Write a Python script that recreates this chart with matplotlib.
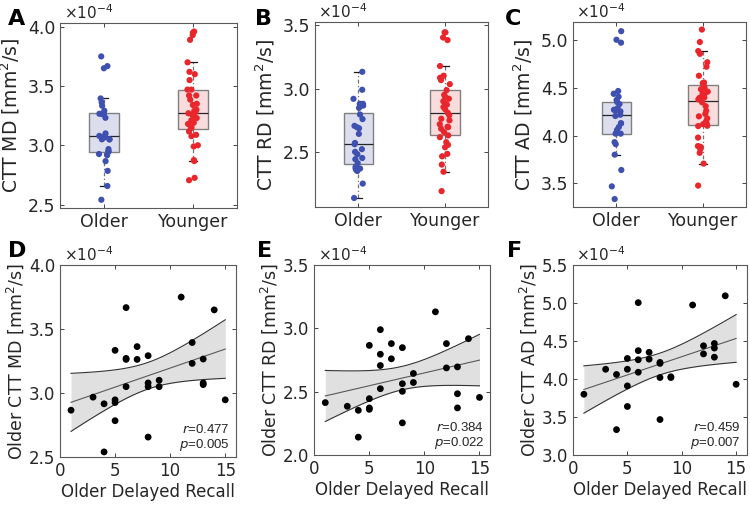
import numpy as np
import matplotlib
matplotlib.use("Agg")
import matplotlib.pyplot as plt

# recall scores of the older group (same for D, E, F)
recall = [1, 3, 4, 4, 5, 5, 5, 5, 6, 6, 6, 6, 7, 7, 8, 8, 8, 8, 9, 9, 11, 12, 12, 13, 13, 13, 14, 15]

# CTT diffusivity, units of 1e-4 mm^2/s
older_md = [2.866, 2.968, 2.916, 2.540, 3.334, 2.947, 2.926, 2.784, 3.668, 3.271, 3.263, 3.050,
            3.363, 3.263, 3.292, 3.079, 3.050, 2.656, 3.100, 3.050, 3.750, 3.395, 3.232, 3.266,
            3.079, 3.066, 3.650, 2.947]
older_rd = [2.414, 2.385, 2.353, 2.141, 2.866, 2.445, 2.372, 2.361, 2.990, 2.796, 2.707, 2.524,
            2.880, 2.760, 2.848, 2.563, 2.503, 2.254, 2.644, 2.573, 3.131, 2.880, 2.688, 2.696,
            2.484, 2.372, 2.919, 2.455]
older_ad = [3.800, 4.129, 4.060, 3.334, 4.271, 4.129, 3.910, 3.639, 5.006, 4.374, 4.254, 4.090,
            4.352, 4.262, 4.219, 4.206, 4.020, 3.467, 4.020, 4.030, 4.975, 4.438, 4.331, 4.468,
            4.408, 4.288, 5.096, 3.931]

younger_md = [3.96, 3.95, 3.93, 3.89, 3.70, 3.62, 3.60, 3.55, 3.47, 3.47, 3.42, 3.42, 3.385, 3.35,
              3.34, 3.30, 3.29, 3.28, 3.27, 3.26, 3.25, 3.23, 3.21, 3.19, 3.18, 3.15, 3.145, 3.116,
              3.088, 3.077, 3.00, 2.99, 2.875, 2.867, 2.725, 2.705]
younger_rd = [3.44, 3.44, 3.40, 3.38, 3.176, 3.10, 3.084, 3.066, 3.034, 2.987, 2.95, 2.934, 2.92,
              2.90, 2.88, 2.874, 2.855, 2.837, 2.81, 2.79, 2.763, 2.75, 2.72, 2.70, 2.697, 2.684,
              2.658, 2.632, 2.618, 2.579, 2.558, 2.539, 2.487, 2.468, 2.403, 2.347, 2.195]
younger_ad = [5.113, 4.982, 4.887, 4.858, 4.77, 4.723, 4.628, 4.557, 4.55, 4.521, 4.50, 4.486,
              4.461, 4.44, 4.43, 4.40, 4.397, 4.38, 4.35, 4.309, 4.26, 4.227, 4.202, 4.18, 4.149,
              4.121, 4.12, 4.103, 4.10, 3.979, 3.89, 3.883, 3.858, 3.819, 3.706, 3.475]

measures = ["MD", "RD", "AD"]
groups = ["Older", "Younger"]
r_vals = ["0.477", "0.384", "0.459"]
p_vals = ["0.005", "0.022", "0.007"]

BLUE = "#3f51b0"
RED = "#e8262b"
TXT = "#262626"

plt.rcParams["font.family"] = "DejaVu Sans"
plt.rcParams["text.color"] = TXT
plt.rcParams["axes.labelcolor"] = TXT
plt.rcParams["xtick.color"] = TXT
plt.rcParams["ytick.color"] = TXT

fig = plt.figure(figsize=(7.5, 5.05), dpi=100)

top_pos = [[0.080, 0.588, 0.236, 0.366], [0.420, 0.590, 0.231, 0.366], [0.764, 0.590, 0.231, 0.366]]
bot_pos = [[0.080, 0.095, 0.235, 0.380], [0.419, 0.099, 0.235, 0.376], [0.764, 0.099, 0.232, 0.376]]
top_lims = [(2.47, 4.03), (2.07, 3.52), (3.25, 5.19)]
top_ticks = [[2.5, 3.0, 3.5, 4.0], [2.5, 3.0, 3.5], [3.5, 4.0, 4.5, 5.0]]
bot_lims = [(2.5, 4.0), (2.0, 3.5), (3.0, 5.5)]
bot_ticks = [[2.5, 3.0, 3.5, 4.0], [2.0, 2.5, 3.0, 3.5], [3.0, 3.5, 4.0, 4.5, 5.0, 5.5]]

older = [older_md, older_rd, older_ad]
younger = [younger_md, younger_rd, younger_ad]


def style(ax, size):
    ax.tick_params(direction="in", top=True, right=True, length=3, labelsize=size, width=0.6)
    for s in ax.spines.values():
        s.set_color("0.35")
        s.set_linewidth(0.8)
    ax.text(0.02, 1.005, r"$\times 10^{-4}$", transform=ax.transAxes, fontsize=11,
            ha="left", va="bottom", color=TXT)


rng = np.random.default_rng(7)

# top row: box plots
for i in range(3):
    ax = fig.add_axes(top_pos[i])
    data = [older[i], younger[i]]
    bp = ax.boxplot(data, positions=[1, 2], widths=0.34, whis=1.0, showfliers=False,
                    patch_artist=True,
                    medianprops=dict(color="0.15", linewidth=0.9),
                    boxprops=dict(edgecolor="0.5", linewidth=1.0),
                    whiskerprops=dict(color="0.45", linewidth=0.9, linestyle=(0, (3, 2, 1, 2))),
                    capprops=dict(color="0.1", linewidth=0.9), capwidths=0.09)
    bp["boxes"][0].set_facecolor("#dcdeee")
    bp["boxes"][1].set_facecolor("#fbdcdc")
    for k, (vals, col) in enumerate(zip(data, [BLUE, RED])):
        jit = rng.uniform(-0.06, 0.06, len(vals))
        ax.scatter(np.full(len(vals), k + 1) + jit, vals, s=20, color=col, zorder=3,
                   edgecolors="none")
    ax.set_xlim(0.5, 2.5)
    ax.set_ylim(*top_lims[i])
    ax.set_yticks(top_ticks[i])
    ax.set_yticklabels(["%.1f" % t for t in top_ticks[i]])
    ax.set_xticks([1, 2])
    ax.set_xticklabels(groups, fontsize=12.5)
    ax.set_ylabel("CTT %s [mm$^2$/s]" % measures[i], fontsize=13.5, labelpad=4)
    style(ax, 12.5)

# bottom row: correlations
x = np.array(recall, dtype=float)
for i in range(3):
    ax = fig.add_axes(bot_pos[i])
    y = np.array(older[i])
    n = len(x)
    b, a = np.polyfit(x, y, 1)
    xs = np.linspace(x.min(), x.max(), 100)
    yfit = a + b * xs
    resid = y - (a + b * x)
    s_err = np.sqrt(np.sum(resid ** 2) / (n - 2))
    sxx = np.sum((x - x.mean()) ** 2)
    half = 2.056 * s_err * np.sqrt(1.0 / n + (xs - x.mean()) ** 2 / sxx)
    ax.fill_between(xs, yfit - half, yfit + half, color="0.88", lw=0, zorder=1)
    ax.plot(xs, yfit, color="0.35", lw=0.8, zorder=2)
    ax.plot(xs, yfit - half, color="0.2", lw=0.8, zorder=2)
    ax.plot(xs, yfit + half, color="0.2", lw=0.8, zorder=2)
    ax.scatter(x, y, s=24, color="black", zorder=3, edgecolors="none")
    ax.set_xlim(0, 16)
    ax.set_ylim(*bot_lims[i])
    ax.set_xticks([0, 5, 10, 15])
    ax.set_yticks(bot_ticks[i])
    ax.set_yticklabels(["%.1f" % t for t in bot_ticks[i]])
    ax.set_xlabel("Older Delayed Recall", fontsize=12, labelpad=2)
    ax.set_ylabel("Older CTT %s [mm$^2$/s]" % measures[i], fontsize=12.5, labelpad=2)
    style(ax, 12)
    ax.text(0.965, 0.145, r"$r$=" + r_vals[i], transform=ax.transAxes, fontsize=9.5,
            ha="right", va="center", family="Liberation Sans")
    ax.text(0.965, 0.065, r"$p$=" + p_vals[i], transform=ax.transAxes, fontsize=9.5,
            ha="right", va="center", family="Liberation Sans")

# panel letters
for lab, xx, yy in [("A", 0.010, 0.982), ("B", 0.340, 0.982), ("C", 0.673, 0.982),
                    ("D", 0.010, 0.522), ("E", 0.343, 0.522), ("F", 0.676, 0.522)]:
    fig.text(xx, yy, lab, fontsize=16, fontweight="bold", color="black", va="top", ha="left")

fig.savefig("out.png", dpi=100)
